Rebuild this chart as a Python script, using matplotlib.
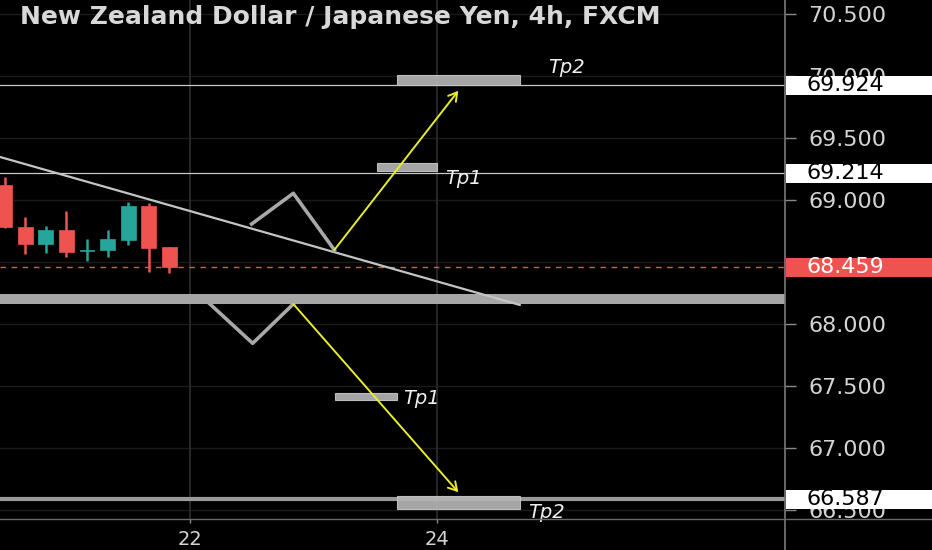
import matplotlib
matplotlib.use('Agg')
import matplotlib.pyplot as plt
from matplotlib.patches import Rectangle
from matplotlib.transforms import blended_transform_factory
from matplotlib.lines import Line2D

# ---------------- data ----------------
title = "New Zealand Dollar / Japanese Yen, 4h, FXCM"

# 4h candles (x in days of the month)
candle_time = [20.5, 20.6667, 20.8333, 21.0, 21.1667, 21.3333, 21.5, 21.6667, 21.8333]
opens  = [69.121, 68.785, 68.645, 68.758, 68.588, 68.597, 68.677, 68.954, 68.619]
closes = [68.785, 68.645, 68.758, 68.583, 68.600, 68.683, 68.954, 68.616, 68.459]
highs  = [69.188, 68.865, 68.790, 68.914, 68.685, 68.758, 68.981, 68.978, 68.624]
lows   = [68.774, 68.565, 68.570, 68.543, 68.511, 68.538, 68.637, 68.422, 68.409]

price_ticks = [66.5, 67.0, 67.5, 68.0, 68.5, 69.0, 69.5, 70.0, 70.5]
# 68.500 is fully hidden behind the last-price box in the reference
price_tick_labels = ["66.500", "67.000", "67.500", "68.000", "", "69.000",
                     "69.500", "70.000", "70.500"]
day_ticks = [22, 24]
day_labels = ["22", "24"]

last_price = 68.459
level_prices = [69.924, 69.214, 66.587]

# drawings
trend_x = [20.462, 24.672]
trend_y = [69.347, 68.153]
zig_up_x = [22.499, 22.837, 23.169]
zig_up_y = [68.806, 69.054, 68.597]
zig_dn_x = [22.162, 22.508, 22.837]
zig_dn_y = [68.161, 67.844, 68.161]
arrow_up = [(23.169, 68.597), (24.173, 69.881)]
arrow_dn = [(22.837, 68.161), (24.173, 66.643)]
band_lo, band_hi = 68.161, 68.240

tp_boxes = [  # x0, x1, y0, y1
    (23.676, 24.672, 69.924, 70.008),
    (23.512, 24.003, 69.236, 69.301),
    (23.174, 23.676, 67.387, 67.444),
    (23.676, 24.672, 66.506, 66.613),
]
tp_labels = ["Tp2", "Tp1", "Tp1", "Tp2"]
tp_label_x = [24.899, 24.065, 23.725, 24.737]
tp_label_y = [70.065, 69.177, 67.395, 66.476]

# price-axis label boxes
box_prices = [69.924, 69.214, 68.459, 66.587]
box_texts = ["69.924", "69.214", "68.459", "66.587"]
box_face = ["#ffffff", "#ffffff", "#ef5350", "#ffffff"]
box_textc = ["#000000", "#000000", "#ffffff", "#000000"]

# ---------------- figure ----------------
W, H = 932, 550
fig = plt.figure(figsize=(W / 100, H / 100), dpi=100, facecolor="black")
ax_right = 785 / W
ax_bottom = 1 - 519 / H
ax = fig.add_axes([0, ax_bottom, ax_right, 1 - ax_bottom])
ax.set_facecolor("black")
ax.set_xlim(20.462, 26.818)
ax.set_ylim(66.427, 70.613)

for s in ax.spines.values():
    s.set_visible(False)

# grid
for p in price_ticks:
    ax.axhline(p, color="#1b1b1b", lw=1, zorder=0)
for d in day_ticks:
    ax.axvline(d, color="#2e2e2e", lw=1.2, zorder=0.5)

# y ticks on right
ax.yaxis.tick_right()
ax.set_yticks(price_ticks)
ax.set_yticklabels(price_tick_labels)
ax.tick_params(axis="y", colors="#8a8a8a", length=8, width=1, direction="out",
               labelcolor="#d4d4d4", labelsize=16, pad=9)
ax.set_xticks(day_ticks)
ax.set_xticklabels(day_labels)
ax.tick_params(axis="x", colors="#8a8a8a", length=3, width=1, direction="out",
               labelcolor="#d4d4d4", labelsize=14, pad=5)

# band & levels
ax.axhspan(band_lo, band_hi, color="#a6a6a6", zorder=1, lw=0)
ax.axhline(level_prices[0], color="#c8c8c8", lw=0.9, zorder=1)
ax.axhline(level_prices[1], color="#c8c8c8", lw=0.9, zorder=1)
ax.axhline(level_prices[2], color="#9a9a9a", lw=3.0, zorder=1)
ax.axhline(last_price, color="#ef5350", lw=1, ls=(0, (4, 4)), zorder=1.5)

# candles
body_w = 0.12
for t, o, c, h, l in zip(candle_time, opens, closes, highs, lows):
    col = "#26a69a" if c >= o else "#ef5350"
    ax.vlines(t, l, h, color=col, lw=1.8, zorder=3)
    lo_b, hi_b = min(o, c), max(o, c)
    hgt = max(hi_b - lo_b, 0.012)
    ax.add_patch(Rectangle((t - body_w / 2, lo_b), body_w, hgt, facecolor=col,
                           edgecolor=col, lw=0.5, zorder=3))

# trendline and zigzags
ax.plot(trend_x, trend_y, color="#c4c4c4", lw=1.6, zorder=4, solid_capstyle="round")
ax.plot(zig_up_x, zig_up_y, color="#a8a8a8", lw=2.6, zorder=4)
ax.plot(zig_dn_x, zig_dn_y, color="#a8a8a8", lw=2.6, zorder=4)

yel = "#e8ec2a"
for (p0, p1) in (arrow_up, arrow_dn):
    ax.annotate("", xy=p1, xytext=p0,
                arrowprops=dict(arrowstyle="->,head_length=0.6,head_width=0.35",
                                color=yel, lw=1.4, shrinkA=0, shrinkB=0), zorder=5)

# TP boxes and labels
for (x0, x1, y0, y1) in tp_boxes:
    ax.add_patch(Rectangle((x0, y0), x1 - x0, y1 - y0, facecolor="#b3b3b3",
                           edgecolor="#c6c6c6", lw=0.8, alpha=0.93, zorder=4))
for lab, lx, ly in zip(tp_labels, tp_label_x, tp_label_y):
    ax.text(lx, ly, lab, color="#f0f0f0", fontsize=14, style="italic",
            ha="left", va="center", zorder=6)

# title
fig.text(20 / W, 1 - 17 / H, title, color="#d8d8d8", fontsize=18,
         fontweight="semibold", ha="left", va="center")

# axis frame lines (full figure)
fig.add_artist(Line2D([ax_right, ax_right], [0, 1], transform=fig.transFigure,
                      color="#7a7a7a", lw=1.2))
fig.add_artist(Line2D([0, 1], [ax_bottom, ax_bottom], transform=fig.transFigure,
                      color="#6a6a6a", lw=1.0))

# price label boxes
trans = blended_transform_factory(fig.transFigure, ax.transData)
half = 0.077
for p, txt, fc, tc in zip(box_prices, box_texts, box_face, box_textc):
    ax.add_patch(Rectangle((ax_right + 0.001, p - half), 1 - ax_right, 2 * half,
                           transform=trans, facecolor=fc, edgecolor="none",
                           clip_on=False, zorder=10))
    ax.text(807 / W, p, txt, transform=trans, color=tc, fontsize=16,
            ha="left", va="center", clip_on=False, zorder=11)

fig.savefig("out.png", dpi=100, facecolor="black")
